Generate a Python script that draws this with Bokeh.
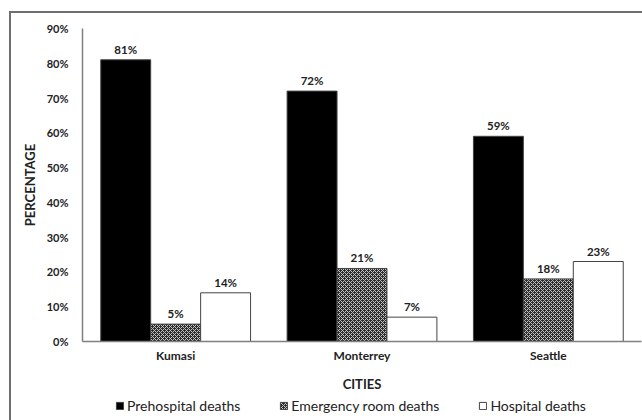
from bokeh.plotting import figure
from bokeh.layouts import column
from bokeh.models import FactorRange, FixedTicker, PrintfTickFormatter, Legend, LegendItem, ColumnDataSource, Range1d
from bokeh.transform import dodge
from bokeh.embed import file_html
from bokeh.resources import INLINE

cities = ["Kumasi", "Monterrey", "Seattle"]
series = ["Prehospital deaths", "Emergency room deaths", "Hospital deaths"]
prehospital = [81, 72, 59]
emergency = [5, 21, 18]
hospital = [14, 7, 23]
y_ticks = [0, 10, 20, 30, 40, 50, 60, 70, 80, 90]

FONT = "Lato"
src = ColumnDataSource(dict(
    city=cities,
    pre=prehospital, er=emergency, hosp=hospital,
    pre_l=[f"{v}%" for v in prehospital],
    er_l=[f"{v}%" for v in emergency],
    hosp_l=[f"{v}%" for v in hospital],
))

pre_style = dict(fill_color="black", line_color="#444444", line_width=1)
er_style = dict(fill_color="#2a2a2a", hatch_pattern="x", hatch_color="#c8c8c8", hatch_scale=4,
                hatch_weight=1, line_color="#444444", line_width=1)
hosp_style = dict(fill_color="white", line_color="#444444", line_width=1)

p = figure(x_range=FactorRange(factors=cities, range_padding=0), y_range=Range1d(0, 90),
           width=642, height=394, output_backend="svg", toolbar_location=None,
           min_border_left=82, min_border_top=28, min_border_right=1, min_border_bottom=52)
p.outline_line_color = None
p.grid.visible = False
p.border_fill_color = None
p.background_fill_color = "white"

bw = 0.268
p.vbar(x=dodge("city", -bw, range=p.x_range), top="pre", width=bw, source=src, **pre_style)
p.vbar(x=dodge("city", 0, range=p.x_range), top="er", width=bw, source=src, **er_style)
p.vbar(x=dodge("city", bw, range=p.x_range), top="hosp", width=bw, source=src, **hosp_style)

for key, lab, off in [("pre", "pre_l", -bw), ("er", "er_l", 0), ("hosp", "hosp_l", bw)]:
    p.text(x=dodge("city", off, range=p.x_range), y=key, text=lab, source=src,
           text_align="center", text_baseline="bottom", y_offset=-4,
           text_font={"value": FONT}, text_font_style="bold", text_font_size="11.5px",
           text_color="#222222")

p.yaxis.ticker = FixedTicker(ticks=y_ticks)
p.yaxis.formatter = PrintfTickFormatter(format="%d%%")
for ax in (p.xaxis, p.yaxis):
    ax.axis_line_color = "#808080"
    ax.axis_line_width = 1.5
    ax.major_tick_line_color = None
    ax.minor_tick_line_color = None
    ax.major_label_text_font = FONT
    ax.major_label_text_font_style = "bold"
    ax.major_label_text_color = "#222222"
    ax.axis_label_text_font = FONT
    ax.axis_label_text_font_style = "bold"
    ax.axis_label_text_font_size = "13px"
    ax.axis_label_text_color = "#222222"
p.yaxis.major_label_text_font_size = "11px"
p.xaxis.major_label_text_font_size = "12px"
p.yaxis.axis_label = "PERCENTAGE"
p.yaxis.major_label_standoff = 8
p.yaxis.axis_label_standoff = 6
p.xaxis.axis_label = "CITIES"
p.xaxis.major_label_standoff = 0
p.xaxis.axis_label_standoff = 10

# legend strip (separate figure so the legend can sit below the axis title)
lf = figure(width=642, height=26, output_backend="svg", toolbar_location=None,
            x_range=Range1d(0, 1), y_range=Range1d(0, 1),
            x_axis_location=None, y_axis_location=None,
            min_border_left=82, min_border_right=1, min_border_top=0, min_border_bottom=0)
lf.grid.visible = False
lf.outline_line_color = None
lf.background_fill_color = None
lf.border_fill_color = None
far = ColumnDataSource(dict(x=[-50.0], top=[-50.0], bottom=[-51.0]))
l1 = lf.vbar(x="x", top="top", bottom="bottom", width=0.1, source=far, **pre_style)
l2 = lf.vbar(x="x", top="top", bottom="bottom", width=0.1, source=far, **er_style)
l3 = lf.vbar(x="x", top="top", bottom="bottom", width=0.1, source=far, **hosp_style)
legend = Legend(items=[LegendItem(label=series[0], renderers=[l1]),
                       LegendItem(label=series[1], renderers=[l2]),
                       LegendItem(label=series[2], renderers=[l3])],
                orientation="horizontal", location=(33, 6),
                border_line_color=None, background_fill_alpha=0,
                label_text_font=FONT, label_text_font_size="14px", label_text_color="#222222",
                label_height=16, glyph_width=9, glyph_height=9, spacing=39, label_standoff=3,
                padding=1, margin=0)
lf.add_layout(legend, "center")

layout = column(p, lf, spacing=0)
layout.styles = {
    "background": ("linear-gradient(#6e6e6e,#6e6e6e) 11px 11px / 100% 2px no-repeat, "
                   "linear-gradient(#6e6e6e,#6e6e6e) 9px 11px / 2px 100% no-repeat, white"),
}

open("out.html", "w").write(file_html(layout, INLINE))
